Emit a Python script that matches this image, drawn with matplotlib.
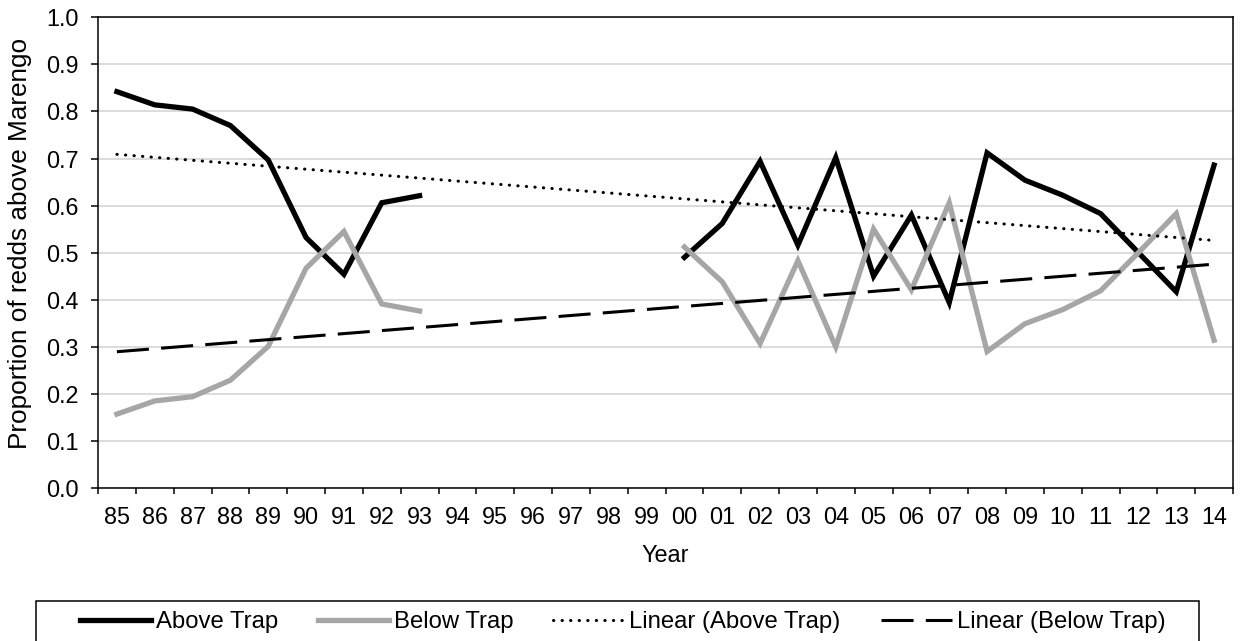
import matplotlib
matplotlib.use('Agg')
import matplotlib.pyplot as plt
from matplotlib.patches import Rectangle
import numpy as np

plt.rcParams['font.family'] = ['Liberation Sans', 'DejaVu Sans']

years = ['85', '86', '87', '88', '89', '90', '91', '92', '93', '94',
         '95', '96', '97', '98', '99', '00', '01', '02', '03', '04',
         '05', '06', '07', '08', '09', '10', '11', '12', '13', '14']

nan = np.nan
above_trap = [0.842, 0.814, 0.805, 0.770, 0.697, 0.532, 0.454, 0.606, 0.621,
              nan, nan, nan, nan, nan, nan,
              0.490, 0.562, 0.694, 0.516, 0.702, 0.450, 0.580, 0.394, 0.712,
              0.654, 0.622, 0.583, 0.500, 0.417, 0.686]
below_trap = [0.157, 0.185, 0.194, 0.229, 0.301, 0.467, 0.545, 0.391, 0.376,
              nan, nan, nan, nan, nan, nan,
              0.512, 0.438, 0.307, 0.483, 0.300, 0.550, 0.421, 0.606, 0.290,
              0.349, 0.379, 0.419, 0.500, 0.583, 0.314]

x = np.arange(len(years))
above = np.array(above_trap)
below = np.array(below_trap)

# linear trendlines (least squares on category index, gaps skipped)
ok = ~np.isnan(above)
fit_above = np.polyfit(x[ok], above[ok], 1)
ok = ~np.isnan(below)
fit_below = np.polyfit(x[ok], below[ok], 1)

fs = 16.8
fig = plt.figure(figsize=(12.41, 6.41), dpi=100)
ax = fig.add_axes([98 / 1241, 1 - 488 / 641, (1233 - 98) / 1241, (488 - 17.3) / 641])

l1, = ax.plot(x, above, color='black', lw=3.8, label='Above Trap', solid_joinstyle='miter')
l2, = ax.plot(x, below, color='#a6a6a6', lw=3.8, label='Below Trap', solid_joinstyle='miter')
l3, = ax.plot(x, np.polyval(fit_above, x), color='black', lw=2.2,
              linestyle=(0, (0.1, 2.7)), dash_capstyle='round', label='Linear (Above Trap)')
l4, = ax.plot(x, np.polyval(fit_below, x), color='black', lw=2.2,
              linestyle=(0, (10.5, 4)), label='Linear (Below Trap)')

ax.set_xlim(-0.5, len(years) - 0.5)
ax.set_ylim(0, 1.0)
ax.set_yticks(np.arange(0, 1.01, 0.1))
ax.set_yticklabels(['%.1f' % v for v in np.arange(0, 1.01, 0.1)])
ax.yaxis.grid(True, color='#d9d9d9', lw=1.3)
ax.set_axisbelow(True)

ax.set_xticks(np.arange(-0.5, len(years), 1.0))
ax.set_xticklabels([])
ax.set_xticks(x, minor=True)
ax.set_xticklabels(years, minor=True)
ax.tick_params(axis='x', which='major', direction='out', length=4, width=1.1)
ax.tick_params(axis='x', which='minor', length=0, pad=13, labelsize=fs)
ax.tick_params(axis='y', direction='out', length=5, width=1.1, pad=9, labelsize=fs)

for s in ax.spines.values():
    s.set_linewidth(1.1)
    s.set_color('black')

ax.set_xlabel('Year', fontsize=fs)
ax.xaxis.set_label_coords(0.5, -0.12)
ax.set_ylabel('Proportion of redds above Marengo', fontsize=18.8)
ax.yaxis.set_label_coords(-0.058, 0.52)

# legend box
fig.patches.append(Rectangle((36 / 1241, -0.01), (1199 - 36) / 1241, (641 - 601) / 641 + 0.01,
                             transform=fig.transFigure, fill=False, edgecolor='black', lw=1.1))
fig.legend(handles=[l1, l2, l3, l4], loc='center', ncol=4, frameon=False,
           bbox_to_anchor=(622.5 / 1241, (641 - 622) / 641), fontsize=17.2,
           handlelength=2.97, handletextpad=0.21, columnspacing=1.67)

fig.savefig('out.png', dpi=100)
